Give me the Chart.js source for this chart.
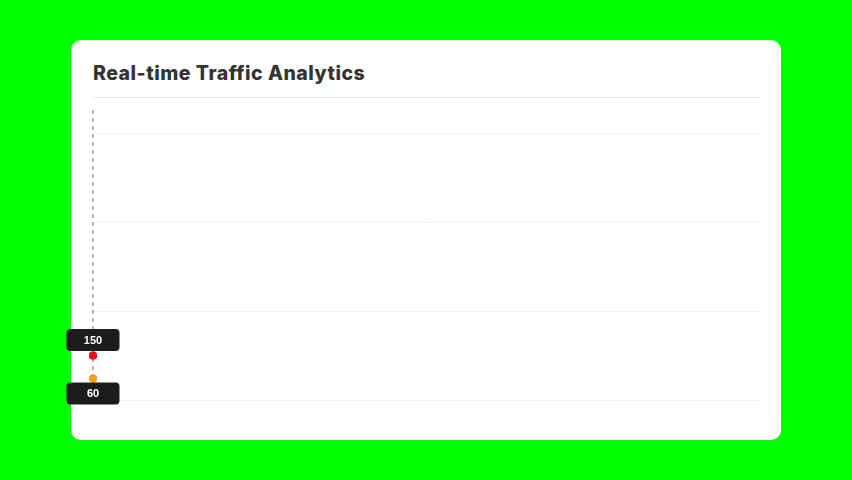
<!DOCTYPE html>
<html lang="en">
<head>
  <meta charset="UTF-8" />
  <title>Real-time Traffic Analytics</title>
  <script src="https://cdn.jsdelivr.net/npm/chart.js"></script>
  <style>
    html, body { margin: 0; padding: 0; }
    body { width: 852px; height: 480px; background: #00ff00; position: relative; overflow: hidden;
           font-family: Inter, "DejaVu Sans", sans-serif; }
    .card { position: absolute; left: 71px; top: 40px; width: 710px; height: 400px;
            background: #fff; border-radius: 10px; }
    .card h2 { position: absolute; left: 22px; top: 22px; margin: 0; font-size: 19.5px;
               line-height: 22px; font-weight: 800; letter-spacing: 0.5px; color: #333; }
    .card .sep { position: absolute; left: 22px; right: 21px; top: 57px; height: 1px; background: #e6e6e6; }
    .chart-wrap { position: absolute; left: -31px; top: 57px; width: 741px; height: 343px; }
  </style>
</head>
<body>
  <div class="card">
    <h2>Real-time Traffic Analytics</h2>
    <div class="sep"></div>
    <div class="chart-wrap"><canvas id="traffic"></canvas></div>
  </div>

  <script>
    const labels = ['0s'];
    const pageViews = [150];
    const activeUsers = [60];
    const yTicks = [0, 300, 600, 900];

    // crosshair + value boxes at the latest point
    const liveMarker = {
      id: 'liveMarker',
      afterDatasetsDraw(chart) {
        const { ctx, chartArea } = chart;
        const p0 = chart.getDatasetMeta(0).data[0];
        const p1 = chart.getDatasetMeta(1).data[0];
        if (!p0 || !p1) return;

        ctx.save();
        ctx.strokeStyle = '#666';
        ctx.lineWidth = 1;
        ctx.setLineDash([4, 4]);
        ctx.beginPath();
        ctx.moveTo(p0.x, chartArea.top);
        ctx.lineTo(p0.x, chartArea.bottom);
        ctx.stroke();
        ctx.setLineDash([]);

        // redraw points over the dashed line
        chart.getDatasetMeta(0).data.forEach(pt => pt.draw(ctx));
        chart.getDatasetMeta(1).data.forEach(pt => pt.draw(ctx));

        const boxW = 53, boxH = 22;
        const drawBox = (x, y, text) => {
          ctx.fillStyle = '#1c1c1c';
          ctx.beginPath();
          ctx.roundRect(x - boxW / 2, y, boxW, boxH, 4);
          ctx.fill();
          ctx.fillStyle = '#fff';
          ctx.font = 'bold 11px "Liberation Sans", Arial, sans-serif';
          ctx.textAlign = 'center';
          ctx.textBaseline = 'middle';
          ctx.fillText(text, x, y + boxH / 2 + 0.5);
        };
        drawBox(p0.x, p0.y - 4.5 - boxH, String(pageViews[0]));
        drawBox(p1.x, p1.y + 4, String(activeUsers[0]));
        ctx.restore();
      }
    };

    new Chart(document.getElementById('traffic'), {
      type: 'line',
      data: {
        labels: labels,
        datasets: [
          {
            label: 'Page Views',
            data: pageViews,
            borderColor: '#e3101c',
            backgroundColor: '#e3101c',
            pointRadius: 4,
            pointBorderWidth: 0,
            yAxisID: 'y',
            clip: false
          },
          {
            label: 'Active Users',
            data: activeUsers,
            borderColor: '#f5a010',
            backgroundColor: '#f5a010',
            pointRadius: 4,
            pointBorderWidth: 0,
            yAxisID: 'y1',
            clip: false
          }
        ]
      },
      options: {
        responsive: true,
        maintainAspectRatio: false,
        animation: false,
        layout: { padding: { left: 53, right: 21, top: 13, bottom: 40 } },
        plugins: {
          legend: { display: false },
          tooltip: { enabled: false }
        },
        scales: {
          x: { display: false },
          y: {
            bounds: 'data',
            min: 0,
            max: 980,
            afterBuildTicks: scale => { scale.ticks = yTicks.map(v => ({ value: v })); },
            ticks: { display: false },
            grid: { color: '#efefef', drawTicks: false },
            border: { display: false }
          },
          y1: { display: false, bounds: 'data', min: 0, max: 810 }
        }
      },
      plugins: [liveMarker]
    });
  </script>
</body>
</html>
